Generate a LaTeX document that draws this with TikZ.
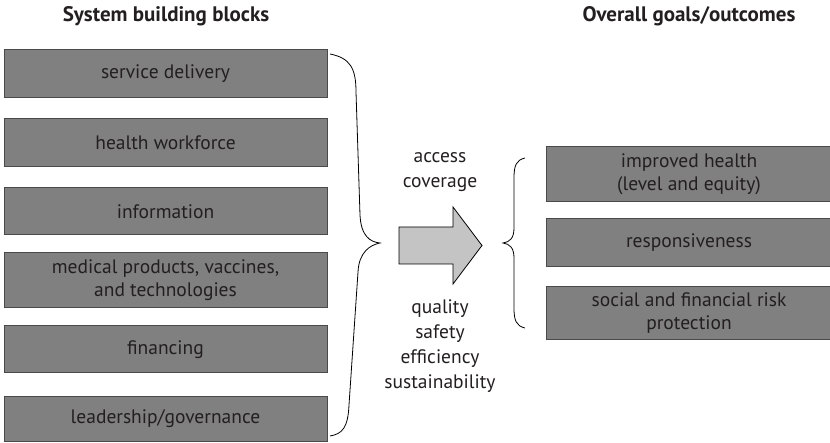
\documentclass[tikz,border=0pt]{standalone}
\usepackage{fontspec}
\setmainfont{PT Sans}
\definecolor{boxfill}{HTML}{808080}
\definecolor{boxline}{HTML}{4A4A4A}
\definecolor{arrowfill}{HTML}{C4C4C4}
\definecolor{txt}{HTML}{231F20}
\begin{document}
\begin{tikzpicture}[x=1pt,y=-1pt,
  blk/.style={draw=boxline, line width=1pt, fill=boxfill, text=txt, inner sep=0pt, align=center, font=\fontsize{19.5}{23}\selectfont},
  hdr/.style={text=txt, font=\fontsize{21}{24}\selectfont\bfseries},
  lbl/.style={text=txt, align=center, font=\fontsize{19.5}{25}\selectfont},
  brace/.style={draw=black, line width=0.8pt}]
\useasboundingbox (0,0) rectangle (830,443);
\node[hdr] (h1) at (166,16) {System building blocks};
\node[hdr] (h2) at (689,16) {Overall goals/outcomes};
% left boxes
\node[blk, minimum width=323pt, minimum height=48pt] (b1) at (165.5,74) {service delivery};
\node[blk, minimum width=323pt, minimum height=48pt] (b2) at (165.5,143) {health workforce};
\node[blk, minimum width=323pt, minimum height=47pt] (b3) at (165.5,211.5) {information};
\node[blk, minimum width=323pt, minimum height=55pt] (b4) at (165.5,280.5) {medical products, vaccines,\\and technologies};
\node[blk, minimum width=323pt, minimum height=47pt] (b5) at (165.5,349.5) {financing};
\node[blk, minimum width=323pt, minimum height=44pt] (b6) at (165.5,419) {leadership/governance};
% right boxes
\node[blk, minimum width=286pt, minimum height=55pt] (g1) at (689,174.5) {improved health\\(level and equity)};
\node[blk, minimum width=286pt, minimum height=48pt] (g2) at (689,243) {responsiveness};
\node[blk, minimum width=286pt, minimum height=53pt] (g3) at (689,313.5) {social and financial risk\\protection};
% middle labels
\node[lbl] (t1) at (440,172) {access\\coverage};
\node[lbl] (t2) at (440,346) {quality\\safety\\efficiency\\sustainability};
% arrow
\draw[draw=black, line width=0.8pt, fill=arrowfill] (399,227) -- (453,227) -- (453,207) -- (482,245.5) -- (453,284) -- (453,264) -- (399,264) -- cycle;
% left brace
\coordinate (lb1) at (330,54);
\coordinate (lb2) at (380,243);
\coordinate (lb3) at (330,436);
\draw[brace] (lb1) .. controls (350,58) and (356,68) .. (356,92)
  -- (360,215) .. controls (361,236) and (370,242) .. (lb2)
  .. controls (370,245) and (359,252) .. (358,272)
  -- (349,405) .. controls (348,428) and (342,434) .. (lb3);
% right brace
\coordinate (rb1) at (525,158);
\coordinate (rb2) at (503,243);
\coordinate (rb3) at (525,328);
\draw[brace] (rb1) .. controls (516,160) and (514,166) .. (514,178)
  -- (514,228) .. controls (514,238) and (510,242) .. (rb2)
  .. controls (510,244) and (514,248) .. (514,258)
  -- (514,308) .. controls (514,320) and (516,326) .. (rb3);
\end{tikzpicture}
\end{document}
